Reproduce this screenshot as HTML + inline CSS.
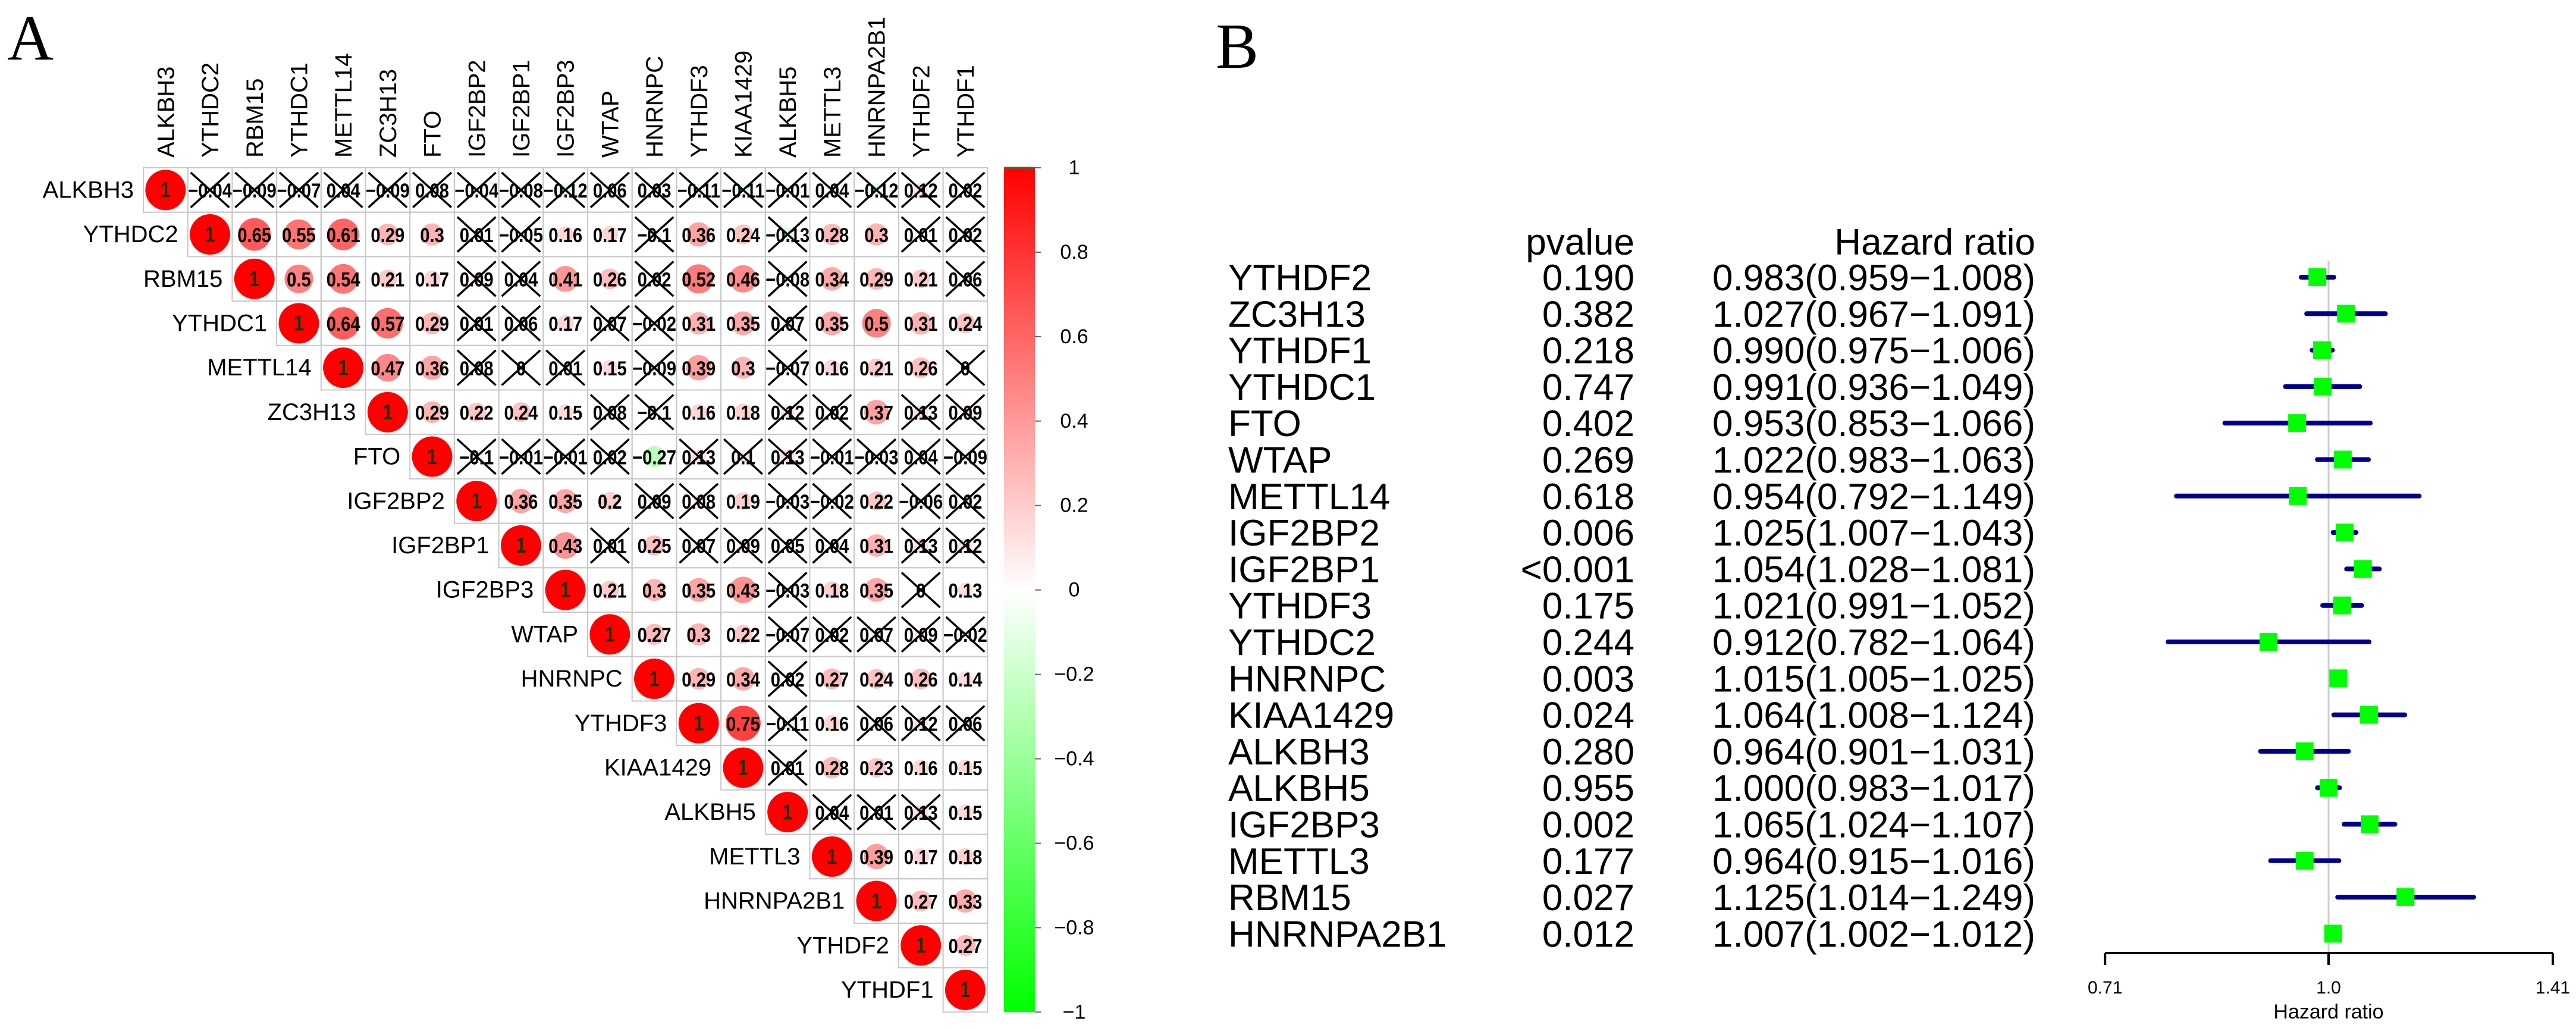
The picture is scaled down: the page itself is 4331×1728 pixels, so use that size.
<!DOCTYPE html>
<html><head><meta charset="utf-8"><style>
html,body{margin:0;padding:0;background:#fff;}
svg{display:block;font-family:"Liberation Sans",Arial,sans-serif;}
</style></head><body>
<svg id="fig" width="4331" height="1728" viewBox="0 0 4331 1728" xmlns="http://www.w3.org/2000/svg">
<defs>
<linearGradient id="cbar" x1="0" y1="0" x2="0" y2="1">
<stop offset="0" stop-color="#ff0000"/><stop offset="0.5" stop-color="#ffffff"/><stop offset="1" stop-color="#00ff00"/>
</linearGradient>
</defs>
<text x="12" y="100" font-family="Liberation Serif, serif" font-size="108">A</text>
<text x="2044" y="114" font-family="Liberation Serif, serif" font-size="108">B</text>
<g id="matrix"></g>
<g id="colorbar"></g>
<g id="forest"></g>
</svg>
<script>
const genes = ["ALKBH3","YTHDC2","RBM15","YTHDC1","METTL14","ZC3H13","FTO","IGF2BP2","IGF2BP1","IGF2BP3","WTAP","HNRNPC","YTHDF3","KIAA1429","ALKBH5","METTL3","HNRNPA2B1","YTHDF2","YTHDF1"];
const corrRows = [
 [1,-0.04,-0.09,-0.07,0.04,-0.09,0.08,-0.04,-0.08,-0.12,0.06,0.03,-0.11,-0.11,-0.01,0.04,-0.12,0.12,0.02],
 [1,0.65,0.55,0.61,0.29,0.3,0.01,-0.05,0.16,0.17,-0.1,0.36,0.24,-0.13,0.28,0.3,0.01,0.02],
 [1,0.5,0.54,0.21,0.17,0.09,0.04,0.41,0.26,0.02,0.52,0.46,-0.08,0.34,0.29,0.21,0.06],
 [1,0.64,0.57,0.29,0.01,0.06,0.17,0.07,-0.02,0.31,0.35,0.07,0.35,0.5,0.31,0.24],
 [1,0.47,0.36,0.08,0,0.01,0.15,-0.09,0.39,0.3,-0.07,0.16,0.21,0.26,0],
 [1,0.29,0.22,0.24,0.15,0.08,-0.1,0.16,0.18,0.12,0.02,0.37,0.13,0.09],
 [1,-0.1,-0.01,-0.01,0.02,-0.27,0.13,0.1,0.13,-0.01,-0.03,0.04,-0.09],
 [1,0.36,0.35,0.2,0.09,0.08,0.19,-0.03,-0.02,0.22,-0.06,0.02],
 [1,0.43,0.01,0.25,0.07,0.09,0.05,0.04,0.31,0.13,0.12],
 [1,0.21,0.3,0.35,0.43,-0.03,0.18,0.35,0,0.13],
 [1,0.27,0.3,0.22,-0.07,0.02,0.07,0.09,-0.02],
 [1,0.29,0.34,0.02,0.27,0.24,0.26,0.14],
 [1,0.75,-0.11,0.16,0.06,0.12,0.06],
 [1,0.01,0.28,0.23,0.16,0.15],
 [1,0.04,0.01,0.13,0.15],
 [1,0.39,0.17,0.18],
 [1,0.27,0.33],
 [1,0.27],
 [1]
];
const sigRows = [
 [1,0,0,0,0,0,0,0,0,0,0,0,0,0,0,0,0,0,0],
 [1,1,1,1,1,1,0,0,1,1,0,1,1,0,1,1,0,0],
 [1,1,1,1,1,0,0,1,1,0,1,1,0,1,1,1,0],
 [1,1,1,1,0,0,1,0,0,1,1,0,1,1,1,1],
 [1,1,1,0,0,0,1,0,1,1,0,1,1,1,0],
 [1,1,1,1,1,0,0,1,1,0,0,1,0,0],
 [1,0,0,0,0,1,0,0,0,0,0,0,0],
 [1,1,1,1,0,0,1,0,0,1,0,0],
 [1,1,0,1,0,0,0,0,1,0,0],
 [1,1,1,1,1,0,1,1,0,1],
 [1,1,1,1,0,0,0,0,0],
 [1,1,1,0,1,1,1,1],
 [1,1,0,1,0,0,0],
 [1,0,1,1,1,1],
 [1,0,0,0,1],
 [1,1,1,1],
 [1,1,1],
 [1,1],
 [1]
];
const cbarTicks = [1,0.8,0.6,0.4,0.2,0,-0.2,-0.4,-0.6,-0.8,-1];
const cbarLabels = ["1","0.8","0.6","0.4","0.2","0","\u22120.2","\u22120.4","\u22120.6","\u22120.8","\u22121"];

const fGenes = ["YTHDF2","ZC3H13","YTHDF1","YTHDC1","FTO","WTAP","METTL14","IGF2BP2","IGF2BP1","YTHDF3","YTHDC2","HNRNPC","KIAA1429","ALKBH3","ALKBH5","IGF2BP3","METTL3","RBM15","HNRNPA2B1"];
const fPvals = ["0.190","0.382","0.218","0.747","0.402","0.269","0.618","0.006","<0.001","0.175","0.244","0.003","0.024","0.280","0.955","0.002","0.177","0.027","0.012"];
const fHR = [0.983,1.027,0.990,0.991,0.953,1.022,0.954,1.025,1.054,1.021,0.912,1.015,1.064,0.964,1.000,1.065,0.964,1.125,1.007];
const fLo = [0.959,0.967,0.975,0.936,0.853,0.983,0.792,1.007,1.028,0.991,0.782,1.005,1.008,0.901,0.983,1.024,0.915,1.014,1.002];
const fHi = [1.008,1.091,1.006,1.049,1.066,1.063,1.149,1.043,1.081,1.052,1.064,1.025,1.124,1.031,1.017,1.107,1.016,1.249,1.012];
const fTicks = [0.71,1.0,1.41];
const fTickLabels = ["0.71","1.0","1.41"];

const NS = "http://www.w3.org/2000/svg";
function mk(tag, attrs, parent){const e=document.createElementNS(NS,tag);for(const k in attrs)e.setAttribute(k,attrs[k]);parent.appendChild(e);return e;}

// ---------- Panel A ----------
const L = 241, T = 282, C = 74.7, N = genes.length;
const mat = document.getElementById('matrix');
const cx = j => L + (j + 0.5) * C;
const cy = i => T + (i + 0.5) * C;
function corrColor(r){
  if (r >= 0){const v=Math.round(255*(1-r));return `rgb(255,${v},${v})`;}
  const v=Math.round(255*(1+r));return `rgb(${v},255,${v})`;
}
function fmt(v){return String(v).replace('-', '\u2212');}
genes.forEach((g,j)=>{
  const t = mk('text',{x:0,y:0,transform:`translate(${cx(j)+14},265) rotate(-90)`,'font-size':40},mat);
  t.textContent = g;
  
  
});
corrRows.forEach((row,i)=>{
  const lab = mk('text',{x:L+i*C-16,y:cy(i),'text-anchor':'end','dominant-baseline':'central','font-size':40},mat);
  lab.textContent = genes[i];
  
  
  row.forEach((v,k)=>{
    const j = i + k;
    const cell = mk('rect',{x:L+j*C,y:T+i*C,width:C,height:C,fill:'none',stroke:'#c8c8c8','stroke-width':2},mat);
    
    
    const rad = 34*Math.sqrt(Math.abs(v));
    if (rad > 0.5){
      const c = mk('circle',{cx:cx(j),cy:cy(i),r:rad,fill:corrColor(v)},mat);
      
      
    }
    const diag = (k===0);
    const tx = mk('text',{x:0,y:0,transform:`translate(${cx(j)},${cy(i)+1}) scale(0.86,1)`,'text-anchor':'middle','dominant-baseline':'central','font-size':diag?36:34,'font-weight':'bold',fill:diag?'#1b3300':'#000'},mat);
    tx.textContent = fmt(v);
    
    
    if (!sigRows[i][k]){
      const x0=L+j*C+5,x1=L+(j+1)*C-5,y0=T+i*C+8,y1=T+(i+1)*C-8;
      const p = mk('path',{d:`M${x0},${y0}L${x1},${y1}M${x1},${y0}L${x0},${y1}`,stroke:'#000','stroke-width':3.5,fill:'none'},mat);
      
      
    }
  });
});
const cb = document.getElementById('colorbar');
const cbTop = T, cbBot = T + N*C, cbX = 1688, cbW = 52;
const cbY = v => cbTop + (1 - v) / 2 * (cbBot - cbTop);
const bar = mk('rect',{x:cbX,y:cbTop,width:cbW,height:cbBot-cbTop,fill:'url(#cbar)'},cb);


mk('line',{x1:cbX,x2:cbX+cbW,y1:cbTop,y2:cbTop,stroke:'#446644','stroke-width':3},cb);
cbarTicks.forEach((v,idx)=>{
  mk('line',{x1:cbX+cbW,x2:cbX+cbW+10,y1:cbY(v),y2:cbY(v),stroke:'#666','stroke-width':2},cb);
  const t = mk('text',{x:1806,y:cbY(v),'text-anchor':'middle','dominant-baseline':'central','font-size':34},cb);
  t.textContent = cbarLabels[idx];
  
  
});

// ---------- Panel B ----------
const fg = document.getElementById('forest');
const X1 = 3915, HALF = 377;
const fx = v => X1 + Math.log(v)/Math.log(1.41)*HALF;
const ROW0 = 466, DY = 61.3;
const fy = i => ROW0 + i*DY;
const AXY = 1602;
let h = mk('text',{x:2748,y:428,'text-anchor':'end','font-size':62},fg);
h.textContent='pvalue';


h = mk('text',{x:3422,y:428,'text-anchor':'end','font-size':62},fg);
h.textContent='Hazard ratio';


mk('line',{x1:fx(1),x2:fx(1),y1:438,y2:AXY,stroke:'#cccccc','stroke-width':3},fg);
fGenes.forEach((g,i)=>{
  const by = fy(i) + 22;
  let t = mk('text',{x:2065,y:by,'font-size':62},fg);
  t.textContent = g;
  
  
  t = mk('text',{x:2748,y:by,'text-anchor':'end','font-size':62},fg);
  t.textContent = fPvals[i];
  
  
  t = mk('text',{x:3422,y:by,'text-anchor':'end','font-size':62},fg);
  t.textContent = fHR[i].toFixed(3)+'('+fLo[i].toFixed(3)+'\u2212'+fHi[i].toFixed(3)+')';
  
  
  const ci = mk('line',{x1:fx(fLo[i]),x2:fx(fHi[i]),y1:fy(i),y2:fy(i),stroke:'#000090','stroke-width':8,'stroke-linecap':'round'},fg);
  
  
  const sq = mk('rect',{x:fx(fHR[i])-15,y:fy(i)-15,width:30,height:30,fill:'#00ff00'},fg);
  
  
});
const ax = mk('line',{x1:fx(fTicks[0]),x2:fx(fTicks[fTicks.length-1]),y1:AXY,y2:AXY,stroke:'#000','stroke-width':4},fg);


fTicks.forEach((v,idx)=>{
  mk('line',{x1:fx(v),x2:fx(v),y1:AXY,y2:AXY+20,stroke:'#000','stroke-width':4},fg);
  const t = mk('text',{x:fx(v),y:1670,'text-anchor':'middle','font-size':30},fg);
  t.textContent = fTickLabels[idx];
  
  
});
const xt = mk('text',{x:fx(1),y:1712,'text-anchor':'middle','font-size':34},fg);
xt.textContent='Hazard ratio';


</script>
</body></html>
